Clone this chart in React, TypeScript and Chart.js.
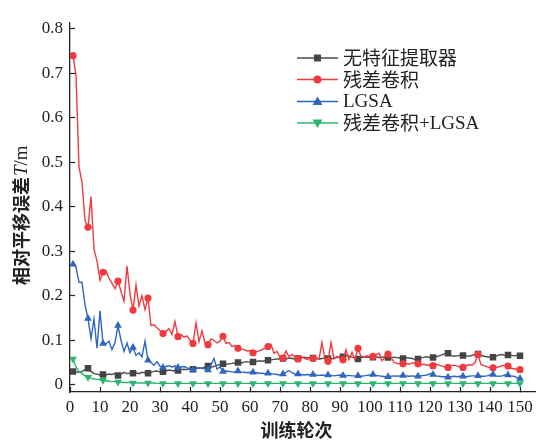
import React, { useEffect, useRef } from "react";
import { Chart, registerables } from "chart.js";

Chart.register(...registerables);

const epochs: number[] = Array.from({ length: 150 }, (_, i) => i + 1);

const seriesNames = ["无特征提取器", "残差卷积", "LGSA", "残差卷积+LGSA"];

const noExtractor = [
  0.030, 0.029, 0.028, 0.030, 0.034, 0.037, 0.030, 0.025, 0.024, 0.022,
  0.023, 0.022, 0.024, 0.023, 0.025, 0.021, 0.024, 0.028, 0.025, 0.026,
  0.026, 0.027, 0.025, 0.028, 0.027, 0.026, 0.028, 0.030, 0.031, 0.029,
  0.029, 0.031, 0.033, 0.032, 0.031, 0.032, 0.034, 0.035, 0.034, 0.036,
  0.035, 0.037, 0.038, 0.037, 0.040, 0.042, 0.040, 0.041, 0.044, 0.045,
  0.047, 0.046, 0.047, 0.048, 0.049, 0.050, 0.049, 0.051, 0.052, 0.051,
  0.051, 0.052, 0.054, 0.053, 0.054, 0.055, 0.056, 0.057, 0.058, 0.058,
  0.059, 0.058, 0.060, 0.059, 0.058, 0.059, 0.060, 0.062, 0.061, 0.060,
  0.060, 0.059, 0.058, 0.059, 0.060, 0.059, 0.058, 0.060, 0.061, 0.063,
  0.063, 0.066, 0.064, 0.062, 0.060, 0.058, 0.061, 0.063, 0.062, 0.062,
  0.062, 0.063, 0.061, 0.062, 0.063, 0.061, 0.060, 0.062, 0.061, 0.060,
  0.059, 0.061, 0.060, 0.059, 0.057, 0.058, 0.060, 0.062, 0.063, 0.061,
  0.061, 0.063, 0.065, 0.067, 0.070, 0.071, 0.066, 0.064, 0.065, 0.066,
  0.066, 0.065, 0.064, 0.066, 0.068, 0.069, 0.066, 0.064, 0.063, 0.062,
  0.062, 0.064, 0.067, 0.068, 0.066, 0.067, 0.066, 0.065, 0.066, 0.065,
];

const resConv = [
  0.740, 0.695, 0.490, 0.455, 0.370, 0.354, 0.423, 0.305, 0.278, 0.235,
  0.253, 0.256, 0.240, 0.228, 0.216, 0.233, 0.210, 0.188, 0.267, 0.205,
  0.168, 0.224, 0.177, 0.200, 0.169, 0.195, 0.133, 0.135, 0.128, 0.122,
  0.115, 0.120, 0.126, 0.113, 0.142, 0.108, 0.113, 0.107, 0.110, 0.100,
  0.093, 0.139, 0.097, 0.121, 0.094, 0.090, 0.103, 0.100, 0.094, 0.098,
  0.109, 0.093, 0.095, 0.086, 0.088, 0.082, 0.080, 0.079, 0.076, 0.077,
  0.072, 0.074, 0.076, 0.079, 0.082, 0.086, 0.091, 0.071, 0.075, 0.062,
  0.060, 0.076, 0.063, 0.068, 0.062, 0.058, 0.064, 0.060, 0.057, 0.060,
  0.059, 0.061, 0.058, 0.095, 0.057, 0.053, 0.095, 0.058, 0.064, 0.060,
  0.056, 0.079, 0.057, 0.073, 0.057, 0.082, 0.064, 0.062, 0.065, 0.063,
  0.064, 0.068, 0.071, 0.054, 0.061, 0.069, 0.062, 0.050, 0.048, 0.047,
  0.047, 0.048, 0.046, 0.049, 0.048, 0.047, 0.045, 0.046, 0.044, 0.045,
  0.043, 0.046, 0.044, 0.042, 0.040, 0.039, 0.043, 0.044, 0.042, 0.040,
  0.039, 0.043, 0.045, 0.044, 0.050, 0.068, 0.045, 0.043, 0.040, 0.038,
  0.038, 0.039, 0.040, 0.043, 0.043, 0.042, 0.037, 0.036, 0.035, 0.034,
];

const lgsa = [
  0.271, 0.264, 0.231, 0.230, 0.180, 0.149, 0.104, 0.148, 0.082, 0.166,
  0.093, 0.092, 0.098, 0.079, 0.095, 0.133, 0.100, 0.075, 0.094, 0.072,
  0.084, 0.066, 0.072, 0.063, 0.098, 0.055, 0.050, 0.044, 0.052, 0.042,
  0.039, 0.041, 0.043, 0.040, 0.042, 0.039, 0.040, 0.041, 0.038, 0.036,
  0.033, 0.036, 0.038, 0.037, 0.035, 0.033, 0.045, 0.059, 0.035, 0.040,
  0.030, 0.031, 0.030, 0.029, 0.028, 0.031, 0.029, 0.028, 0.027, 0.028,
  0.028, 0.027, 0.026, 0.026, 0.025, 0.026, 0.025, 0.024, 0.023, 0.022,
  0.024, 0.028, 0.032, 0.027, 0.024, 0.024, 0.023, 0.022, 0.023, 0.022,
  0.023, 0.022, 0.021, 0.022, 0.021, 0.022, 0.021, 0.020, 0.021, 0.022,
  0.021, 0.020, 0.021, 0.020, 0.020, 0.020, 0.019, 0.020, 0.021, 0.022,
  0.023, 0.021, 0.020, 0.019, 0.018, 0.018, 0.019, 0.020, 0.019, 0.020,
  0.021, 0.020, 0.019, 0.020, 0.019, 0.019, 0.020, 0.021, 0.022, 0.025,
  0.023, 0.020, 0.019, 0.018, 0.018, 0.017, 0.018, 0.019, 0.018, 0.019,
  0.019, 0.018, 0.019, 0.020, 0.020, 0.020, 0.019, 0.019, 0.020, 0.022,
  0.023, 0.020, 0.019, 0.020, 0.022, 0.022, 0.020, 0.019, 0.016, 0.014,
];

const resConvLgsa = [
  0.058, 0.040, 0.030, 0.025, 0.020, 0.017, 0.015, 0.013, 0.012, 0.011,
  0.010, 0.009, 0.008, 0.007, 0.007, 0.006, 0.006, 0.005, 0.005, 0.005,
  0.004, 0.004, 0.004, 0.004, 0.004, 0.004, 0.004, 0.004, 0.003, 0.003,
  0.003, 0.003, 0.003, 0.003, 0.003, 0.003, 0.003, 0.003, 0.003, 0.003,
  0.003, 0.003, 0.003, 0.003, 0.003, 0.003, 0.003, 0.003, 0.003, 0.003,
  0.003, 0.003, 0.003, 0.003, 0.003, 0.003, 0.003, 0.003, 0.003, 0.003,
  0.003, 0.003, 0.003, 0.003, 0.003, 0.003, 0.003, 0.003, 0.003, 0.003,
  0.003, 0.003, 0.003, 0.003, 0.003, 0.003, 0.003, 0.003, 0.003, 0.003,
  0.003, 0.003, 0.003, 0.003, 0.003, 0.003, 0.003, 0.003, 0.003, 0.003,
  0.003, 0.003, 0.003, 0.003, 0.003, 0.003, 0.003, 0.003, 0.003, 0.003,
  0.003, 0.003, 0.003, 0.003, 0.003, 0.003, 0.003, 0.003, 0.003, 0.003,
  0.003, 0.003, 0.003, 0.003, 0.003, 0.003, 0.003, 0.003, 0.003, 0.003,
  0.003, 0.003, 0.003, 0.003, 0.003, 0.003, 0.003, 0.003, 0.003, 0.003,
  0.003, 0.003, 0.003, 0.003, 0.003, 0.003, 0.003, 0.003, 0.003, 0.003,
  0.003, 0.003, 0.003, 0.003, 0.003, 0.003, 0.003, 0.003, 0.003, 0.003,
];

const xTicks = [0, 10, 20, 30, 40, 50, 60, 70, 80, 90, 100, 110, 120, 130, 140, 150];
const yTicks = [0, 0.1, 0.2, 0.3, 0.4, 0.5, 0.6, 0.7, 0.8];

const xTitle = "训练轮次";
const yTitleCjk = "相对平移误差";
const yTitleSym = "T";
const yTitleUnit = "/m";

const CJK = '"Noto Sans CJK SC", sans-serif';
const SERIF = '"Liberation Serif", "Times New Roman", serif';
const TEXT = "#222222";

type Style = { line: string; fill: string; shape: string; radius: number; rotation: number };
const styles: Style[] = [
  { line: "#4d4d4d", fill: "#444444", shape: "rect", radius: 4.6, rotation: 0 },
  { line: "#f03a3f", fill: "#f03a3f", shape: "circle", radius: 3.6, rotation: 0 },
  { line: "#2f66c0", fill: "#2f66c0", shape: "triangle", radius: 4.5, rotation: 0 },
  { line: "#2eb46c", fill: "#2eb46c", shape: "triangle", radius: 4.5, rotation: 180 },
];

const legendSegments: [string, string][][] = [
  [[seriesNames[0], CJK]],
  [[seriesNames[1], CJK]],
  [[seriesNames[2], SERIF]],
  [["残差卷积", CJK], ["+LGSA", SERIF]],
];

function markerRadius(r: number) {
  return (ctx: any) => {
    const i = ctx.dataIndex;
    return i % 5 === 0 || i === epochs.length - 1 ? r : 0;
  };
}

const overlayPlugin = {
  id: "overlay",
  afterDraw(chart: any) {
    const ctx: CanvasRenderingContext2D = chart.ctx;
    ctx.save();
    ctx.fillStyle = TEXT;
    // x title
    ctx.font = `bold 18px ${CJK}`;
    ctx.textAlign = "center";
    ctx.textBaseline = "middle";
    ctx.fillText(xTitle, 296.5, 430);
    // y title
    ctx.save();
    ctx.translate(21, 285);
    ctx.rotate(-Math.PI / 2);
    ctx.textAlign = "left";
    ctx.textBaseline = "middle";
    ctx.font = `bold 18px ${CJK}`;
    ctx.fillText(yTitleCjk, 0, 0);
    let w = ctx.measureText(yTitleCjk).width + 1;
    ctx.font = `italic 19px ${SERIF}`;
    ctx.fillText(yTitleSym, w, 1);
    w += ctx.measureText(yTitleSym).width;
    ctx.font = `19px ${SERIF}`;
    ctx.fillText(yTitleUnit, w, 1);
    ctx.restore();

    // legend
    const rows = [58, 79.5, 101.5, 123];
    styles.forEach((s, i) => {
      const y = rows[i];
      ctx.strokeStyle = s.line;
      ctx.lineWidth = 1.4;
      ctx.beginPath();
      ctx.moveTo(297, y);
      ctx.lineTo(338, y);
      ctx.stroke();
      ctx.fillStyle = s.fill;
      const cx = 317.5;
      ctx.beginPath();
      if (s.shape === "rect") {
        ctx.rect(cx - 3.5, y - 3.5, 7, 7);
      } else if (s.shape === "circle") {
        ctx.arc(cx, y, 4, 0, Math.PI * 2);
      } else if (s.rotation === 0) {
        ctx.moveTo(cx, y - 5);
        ctx.lineTo(cx + 5, y + 3.5);
        ctx.lineTo(cx - 5, y + 3.5);
        ctx.closePath();
      } else {
        ctx.moveTo(cx, y + 5);
        ctx.lineTo(cx + 5, y - 3.5);
        ctx.lineTo(cx - 5, y - 3.5);
        ctx.closePath();
      }
      ctx.fill();
      ctx.fillStyle = TEXT;
      ctx.textAlign = "left";
      ctx.textBaseline = "middle";
      let x = 343;
      legendSegments[i].forEach(([t, f]) => {
        ctx.font = f === CJK ? `19px ${CJK}` : `19px ${SERIF}`;
        ctx.fillText(t, x, f === CJK ? y : y + 1);
        x += ctx.measureText(t).width;
      });
    });
    ctx.restore();
  },
};

export default function App() {
  const canvasRef = useRef<HTMLCanvasElement | null>(null);

  useEffect(() => {
    document.body.style.margin = "0";
    const canvas = canvasRef.current;
    if (!canvas) return;
    const all = [noExtractor, resConv, lgsa, resConvLgsa];
    const chart = new Chart(canvas, {
      type: "line",
      data: {
        datasets: all.map((vals, k) => ({
          label: seriesNames[k],
          data: epochs.map((e, i) => ({ x: e, y: vals[i] })),
          borderColor: styles[k].line,
          backgroundColor: styles[k].fill,
          borderWidth: 1.4,
          tension: 0,
          pointStyle: styles[k].shape as any,
          pointRotation: styles[k].rotation,
          pointRadius: markerRadius(styles[k].radius),
          pointBorderWidth: 0,
          pointBorderColor: styles[k].fill,
          pointBackgroundColor: styles[k].fill,
          pointHoverRadius: 0,
          order: 4 - k,
        })),
      },
      options: {
        responsive: false,
        animation: false,
        layout: { padding: { left: 0, right: 13, top: 10, bottom: 0 } },
        plugins: { legend: { display: false }, tooltip: { enabled: false } },
        scales: {
          x: {
            type: "linear",
            min: 0,
            max: 155,
            afterBuildTicks: (scale: any) => {
              scale.ticks = xTicks.map((v) => ({ value: v }));
            },
            afterFit: (scale: any) => {
              scale.height = 51;
            },
            grid: {
              display: true,
              drawOnChartArea: false,
              drawTicks: true,
              tickLength: -5,
              tickColor: TEXT,
              tickWidth: 1.2,
            },
            border: { display: true, color: TEXT, width: 1.3 },
            ticks: {
              autoSkip: false,
              maxRotation: 0,
              padding: 10,
              color: TEXT,
              font: { family: SERIF, size: 17 },
              callback: (v: any) => String(v),
            },
          },
          y: {
            type: "linear",
            min: -0.0163,
            max: 0.8152,
            afterBuildTicks: (scale: any) => {
              scale.ticks = yTicks.map((v) => ({ value: v }));
            },
            afterFit: (scale: any) => {
              scale.width = 70;
            },
            grid: {
              display: true,
              drawOnChartArea: false,
              drawTicks: true,
              tickLength: -5,
              tickColor: TEXT,
              tickWidth: 1.2,
            },
            border: { display: true, color: TEXT, width: 1.3 },
            ticks: {
              padding: 12,
              color: TEXT,
              font: { family: SERIF, size: 17 },
              callback: (v: any) => (v === 0 ? "0" : Number(v).toFixed(1)),
            },
          },
        },
      },
      plugins: [overlayPlugin],
    });
    return () => chart.destroy();
  }, []);

  return (
    <div style={{ width: 548, height: 443 }}>
      <canvas ref={canvasRef} width={548} height={443} />
    </div>
  );
}
